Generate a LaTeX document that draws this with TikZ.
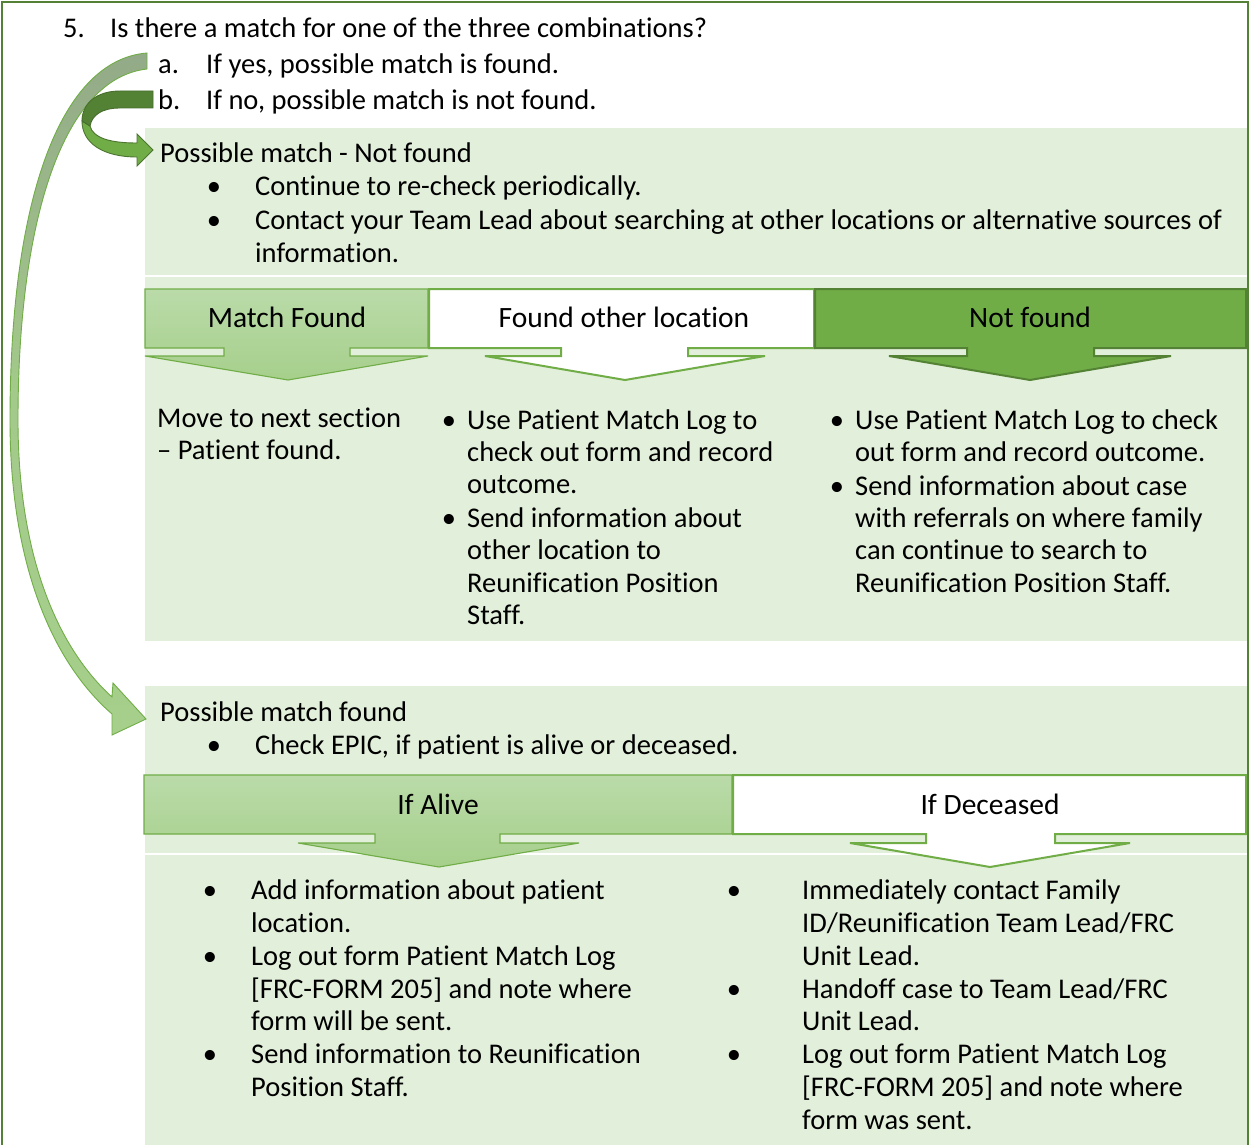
\documentclass[tikz,border=0pt]{standalone}
\usepackage{fontspec}
\setmainfont{Carlito}[Ligatures=NoCommon]
\definecolor{pnl}{HTML}{E2EFDA}
\definecolor{midtop}{HTML}{BADBA9}
\definecolor{midbot}{HTML}{A6CF8B}
\definecolor{brdg}{HTML}{70AD47}
\definecolor{darkg}{HTML}{548235}
\definecolor{frameg}{HTML}{538135}
\definecolor{greyg}{HTML}{93AA88}
\begin{document}
\begin{tikzpicture}[x=1pt,y=-1pt,
  txt/.style={anchor=base west,inner sep=0pt,font=\fontsize{28.5}{33}\selectfont},
  bul/.style={anchor=base,inner sep=0pt,font=\fontsize{28.5}{33}\selectfont},
  hdr/.style={anchor=base,inner sep=0pt,font=\fontsize{29.5}{33}\selectfont},
  panel/.style={fill=pnl,draw=none},
  tabmid/.style={top color=midtop,bottom color=midbot,draw=brdg,line width=1.1pt,line join=miter},
  tabwhite/.style={fill=white,draw=brdg,line width=2pt,line join=miter},
  tabdark/.style={fill=brdg,draw=darkg,line width=2pt,line join=miter}]
\useasboundingbox (0,0) rectangle (1250,1145);
\fill[white] (0,0) rectangle (1250,1145);
% panels
\fill[panel] (145,128) rectangle (1248,275);
\fill[panel] (145,277) rectangle (1248,641);
\fill[panel] (145,686) rectangle (1248,853);
\fill[panel] (145,855) rectangle (1248,1145);
% outer frame
\draw[frameg,line width=2.5pt] (2,1146) -- (2,2) -- (1248,2) -- (1248,1146);
% tabs row 1
\draw[tabmid] (145,289) -- (428,289) -- (428,348) -- (350,348) -- (350,356) -- (428,356) -- (288,380) -- (145,356) -- (224,356) -- (224,348) -- (145,348) -- cycle;
\draw[tabwhite] (429,289) -- (814,289) -- (814,348) -- (688,348) -- (688,356) -- (765,356) -- (625,380) -- (485,356) -- (561,356) -- (561,348) -- (429,348) -- cycle;
\draw[tabdark] (815,289) -- (1246,289) -- (1246,348) -- (1094,348) -- (1094,356) -- (1171,356) -- (1030,380) -- (889,356) -- (967,356) -- (967,348) -- (815,348) -- cycle;
% tabs row 2
\draw[tabmid] (144,775) -- (732,775) -- (732,834) -- (500,834) -- (500,843) -- (579,843) -- (439,867) -- (298,843) -- (375,843) -- (375,834) -- (144,834) -- cycle;
\draw[tabwhite] (733,775) -- (1246,775) -- (1246,834) -- (1055,834) -- (1055,843) -- (1130,843) -- (990,867) -- (850,843) -- (926,843) -- (926,834) -- (733,834) -- cycle;
% big curved arrow (yes -> possible match found)
\draw[top color=greyg,bottom color=midbot,middle color=midbot!85!greyg,draw=brdg,line width=0.9pt,line join=miter]
  (147,53) .. controls (60,60) and (10,200) .. (10,420)
  .. controls (10,560) and (50,660) .. (112,714) -- (112,735) -- (146,719) -- (113,683) -- (112,697)
  .. controls (60,650) and (18,560) .. (18,420)
  .. controls (18,215) and (65,78) .. (147,69) -- cycle;
% U-turn arrow (no -> not found)
\draw[fill=brdg,draw=darkg!90!black,line width=0.9pt,line join=miter]
  (82,121) .. controls (82,143) and (103,157) .. (137,157) -- (137,166) -- (153,150) -- (137,134) -- (137,143)
  .. controls (110,143) and (93,138) .. (90,126) -- cycle;
\draw[fill=darkg,draw=darkg!85!black,line width=0.9pt,line join=miter]
  (153,91) -- (120,91) .. controls (96,91) and (82,104) .. (82,121) -- (90,126)
  .. controls (92,115) and (102,108) .. (120,108) -- (153,108) -- cycle;
% header text
\node[txt] (n5) at (63,38) {5.};
\node[txt] (q5) at (110,38) {Is there a match for one of the three combinations?};
\node[txt] (na) at (158,74) {a.};
\node[txt] (qa) at (206,74) {If yes, possible match is found.};
\node[txt] (nb) at (158,110) {b.};
\node[txt] (qb) at (206,110) {If no, possible match is not found.};
% panel A
\node[txt] (pA) at (160,162) {Possible match - Not found};
\node[bul] (bA1) at (214,195) {\textbullet};
\node[txt] (tA1) at (255,195) {Continue to re-check periodically.};
\node[bul] (bA2) at (214,229) {\textbullet};
\node[txt] (tA2) at (255,229) {Contact your Team Lead about searching at other locations or alternative sources of};
\node[txt] (tA3) at (255,262) {information.};
% tab labels row 1
\node[hdr] (h1) at (287,327) {Match Found};
\node[hdr] (h2) at (624,327) {Found other location};
\node[hdr] (h3) at (1030,327) {Not found};
% column 1
\node[txt] (c1a) at (157,427) {Move to next section};
\node[txt] (c1b) at (157,459) {– Patient found.};
% column 2
\node[bul] (c2b1) at (449,429) {\textbullet};
\node[txt] (c2a) at (467,429) {Use Patient Match Log to};
\node[txt] (c2b) at (467,461) {check out form and record};
\node[txt] (c2c) at (467,493) {outcome.};
\node[bul] (c2b2) at (449,527) {\textbullet};
\node[txt] (c2d) at (467,527) {Send information about};
\node[txt] (c2e) at (467,559) {other location to};
\node[txt] (c2f) at (467,592) {Reunification Position};
\node[txt] (c2g) at (467,624) {Staff.};
% column 3
\node[bul] (c3b1) at (837,429) {\textbullet};
\node[txt] (c3a) at (855,429) {Use Patient Match Log to check};
\node[txt] (c3b) at (855,461) {out form and record outcome.};
\node[bul] (c3b2) at (837,495) {\textbullet};
\node[txt] (c3c) at (855,495) {Send information about case};
\node[txt] (c3d) at (855,527) {with referrals on where family};
\node[txt] (c3e) at (855,559) {can continue to search to};
\node[txt] (c3f) at (855,592) {Reunification Position Staff.};
% panel C
\node[txt] (pC) at (160,721) {Possible match found};
\node[bul] (bC1) at (214,754) {\textbullet};
\node[txt] (tC1) at (255,754) {Check EPIC, if patient is alive or deceased.};
% tab labels row 2
\node[hdr] (h4) at (438,814) {If Alive};
\node[hdr] (h5) at (990,814) {If Deceased};
% panel D left
\node[bul] (d1b1) at (210,899) {\textbullet};
\node[txt] (d1a) at (251,899) {Add information about patient};
\node[txt] (d1b) at (251,932) {location.};
\node[bul] (d1b2) at (210,965) {\textbullet};
\node[txt] (d1c) at (251,965) {Log out form Patient Match Log};
\node[txt] (d1d) at (251,998) {[FRC-FORM 205] and note where};
\node[txt] (d1e) at (251,1030) {form will be sent.};
\node[bul] (d1b3) at (210,1063) {\textbullet};
\node[txt] (d1f) at (251,1063) {Send information to Reunification};
\node[txt] (d1g) at (251,1096) {Position Staff.};
% panel D right
\node[bul] (d2b1) at (734,899) {\textbullet};
\node[txt] (d2a) at (802,899) {Immediately contact Family};
\node[txt] (d2b) at (802,932) {ID/Reunification Team Lead/FRC};
\node[txt] (d2c) at (802,965) {Unit Lead.};
\node[bul] (d2b2) at (734,998) {\textbullet};
\node[txt] (d2d) at (802,998) {Handoff case to Team Lead/FRC};
\node[txt] (d2e) at (802,1030) {Unit Lead.};
\node[bul] (d2b3) at (734,1063) {\textbullet};
\node[txt] (d2f) at (802,1063) {Log out form Patient Match Log};
\node[txt] (d2g) at (802,1096) {[FRC-FORM 205] and note where};
\node[txt] (d2h) at (802,1129) {form was sent.};
\end{tikzpicture}
\end{document}
